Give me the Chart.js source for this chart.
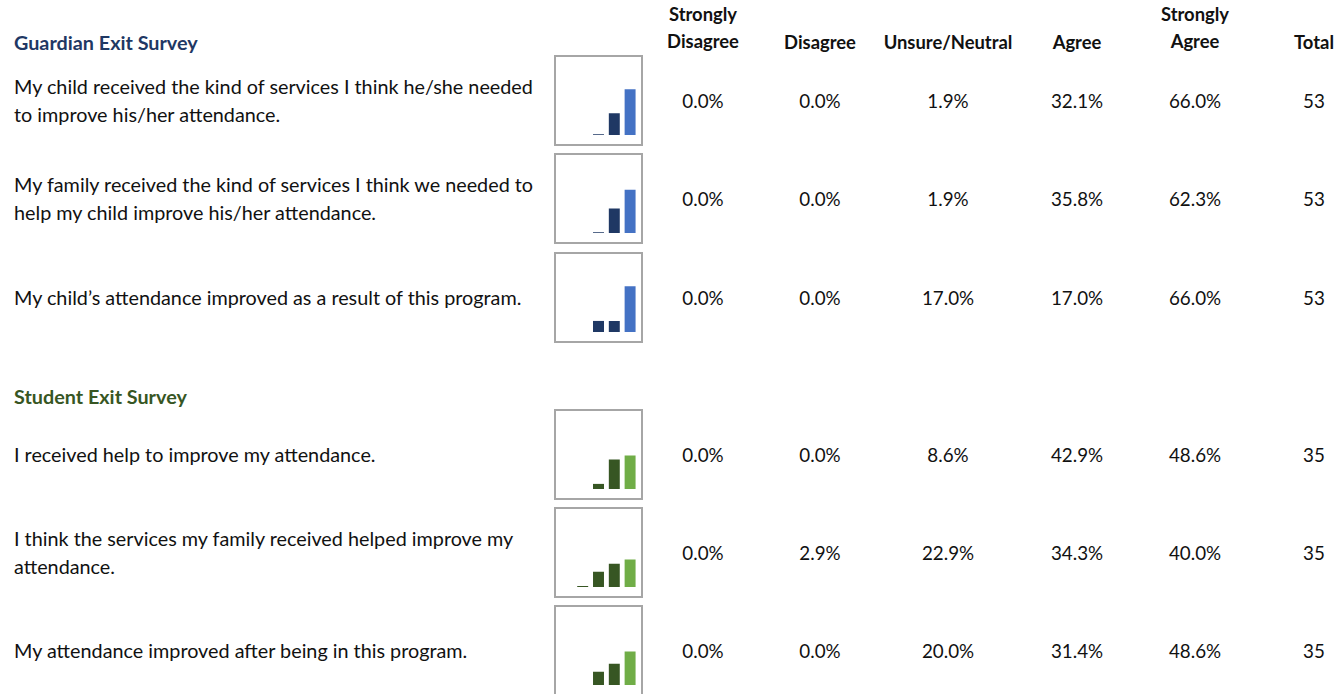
<!DOCTYPE html>
<html>
<head>
<meta charset="utf-8">
<script src="https://cdn.jsdelivr.net/npm/chart.js@4/dist/chart.umd.min.js"></script>
<style>
  body { margin: 0; background: #fff; font-family: Lato, "Open Sans", sans-serif; color: #111; }
  #page { position: relative; width: 1337px; height: 694px; overflow: hidden; }
  .t { position: absolute; white-space: nowrap; }
  .c { transform: translate(-50%, -50%); text-align: center; }
  .l { transform: translateY(-50%); }
  .hd { font-weight: 700; font-size: 18.4px; line-height: 27px; }
  .sec { font-weight: 700; font-size: 19.8px; }
  .q { font-size: 19.8px; line-height: 28px; }
  .num { font-size: 18.8px; }
  .box { position: absolute; width: 85px; height: 87px; border: 2px solid #a6a6a6; }
  .box canvas { display: block; }
</style>
</head>
<body>
<div id="page"></div>
<script>
// column labels
var columns = ["Strongly\nDisagree", "Disagree", "Unsure/Neutral", "Agree", "Strongly\nAgree"];

// guardian survey
var guardianTitle = "Guardian Exit Survey";
var guardianQuestions = [
  "My child received the kind of services I think he/she needed\nto improve his/her attendance.",
  "My family received the kind of services I think we needed to\nhelp my child improve his/her attendance.",
  "My child\u2019s attendance improved as a result of this program."
];
var guardianStronglyDisagree = [0.0, 0.0, 0.0];
var guardianDisagree = [0.0, 0.0, 0.0];
var guardianNeutral = [1.9, 1.9, 17.0];
var guardianAgree = [32.1, 35.8, 17.0];
var guardianStronglyAgree = [66.0, 62.3, 66.0];
var guardianTotal = [53, 53, 53];

// student survey
var studentTitle = "Student Exit Survey";
var studentQuestions = [
  "I received help to improve my attendance.",
  "I think the services my family received helped improve my\nattendance.",
  "My attendance improved after being in this program."
];
var studentStronglyDisagree = [0.0, 0.0, 0.0];
var studentDisagree = [0.0, 2.9, 0.0];
var studentNeutral = [8.6, 22.9, 20.0];
var studentAgree = [42.9, 34.3, 31.4];
var studentStronglyAgree = [48.6, 40.0, 48.6];
var studentTotal = [35, 35, 35];

var page = document.getElementById("page");
var colX = [703, 820, 948, 1077, 1195];
var totalX = 1314;

function txt(s, x, y, cls, color) {
  var d = document.createElement("div");
  d.className = "t " + cls;
  d.style.left = x + "px";
  d.style.top = (y - 1) + "px";
  if (color) d.style.color = color;
  s.split("\n").forEach(function (line, i) {
    if (i) d.appendChild(document.createElement("br"));
    d.appendChild(document.createTextNode(line));
  });
  page.appendChild(d);
  return d;
}

// header row
columns.forEach(function (c, i) {
  var two = c.indexOf("\n") >= 0;
  txt(c, colX[i], two ? 29 : 43, "c hd");
});
txt("Total", totalX, 43, "c hd");

function section(title, titleY, titleColor, questions, sd, d, n, a, sa, tot, rowY, dark, light) {
  txt(title, 14, titleY, "l sec", titleColor);
  questions.forEach(function (q, r) {
    var y = rowY[r];
    txt(q, 14, y, "l q");
    var vals = [sd[r], d[r], n[r], a[r], sa[r]];
    vals.forEach(function (v, i) {
      txt(v.toFixed(1) + "%", colX[i], y, "c num");
    });
    txt(String(tot[r]), totalX, y, "c num");

    var box = document.createElement("div");
    box.className = "box";
    box.style.left = "554px";
    box.style.top = (y - 46) + "px";
    var cv = document.createElement("canvas");
    cv.width = 85; cv.height = 87;
    box.appendChild(cv);
    page.appendChild(box);
    new Chart(cv, {
      type: "bar",
      data: {
        labels: columns.map(function (c) { return c.replace("\n", " "); }),
        datasets: [{
          data: vals,
          backgroundColor: [dark, dark, dark, dark, light],
          borderColor: "rgba(255,255,255,0.5)",
          borderWidth: 1,
          barPercentage: 0.82,
          categoryPercentage: 1
        }]
      },
      options: {
        responsive: false,
        animation: false,
        layout: { padding: { top: 7, bottom: 9, left: 3, right: 3 } },
        plugins: { legend: { display: false }, tooltip: { enabled: false } },
        scales: {
          x: { display: false },
          y: { display: false, min: 0, max: 100 }
        }
      }
    });
  });
}

section(guardianTitle, 43, "#1F3864", guardianQuestions,
  guardianStronglyDisagree, guardianDisagree, guardianNeutral, guardianAgree, guardianStronglyAgree, guardianTotal,
  [101, 199, 298], "#1F3864", "#4472C4");

section(studentTitle, 397, "#375623", studentQuestions,
  studentStronglyDisagree, studentDisagree, studentNeutral, studentAgree, studentStronglyAgree, studentTotal,
  [455, 553, 651], "#375623", "#70AD47");
</script>
</body>
</html>
